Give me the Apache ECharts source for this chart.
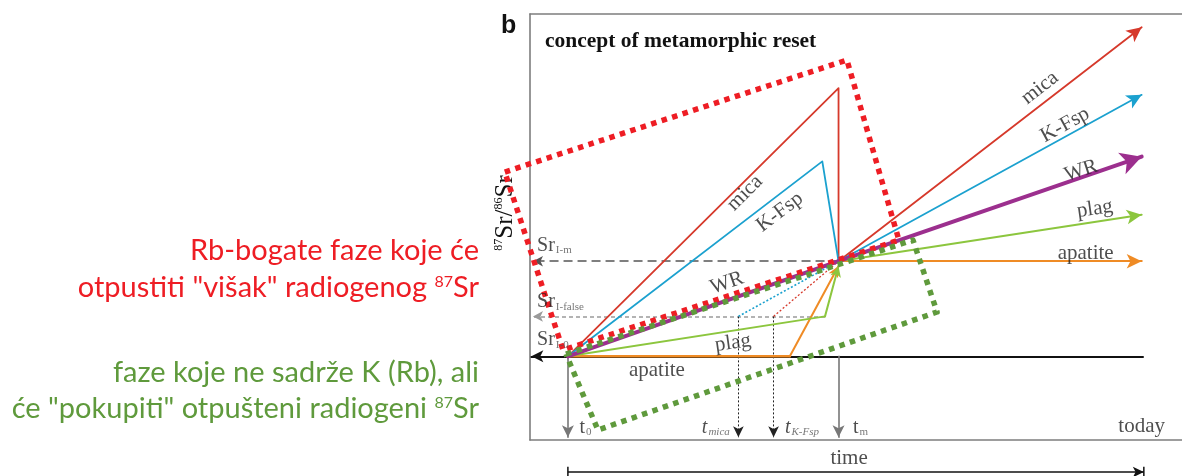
<!DOCTYPE html>
<html><head><meta charset="utf-8">
<script src="https://cdn.jsdelivr.net/npm/echarts@6/dist/echarts.min.js"></script>
<style>html,body{margin:0;padding:0;background:#fff}#c{width:1182px;height:476px}</style>
</head><body><div id="c"></div>
<script>
// ---- data (time in arbitrary units: t0 = 0, tm = 100; 87Sr/86Sr in arbitrary units: Sr_I-0 = 0, Sr_I-m = 100)
const timeNames  = ['t0', 'tMica', 'tKFsp', 'tm', 'today'];
const timeValues = [0, 63, 76, 100, 212];
const srLevelNames  = ['Sr_I-0', 'Sr_I-false', 'Sr_I-m'];
const srLevelValues = [0, 42, 100];

// evolution paths before metamorphism (t0 -> tm)
const micaBefore    = [[0, 0], [100, 282], [100, 100]];
const kfspBefore    = [[0, 0], [94, 205], [100, 100]];
const wrBefore      = [[0, 0], [100, 100]];
const plagBefore    = [[0, 0], [95, 42]];
const plagReset     = [[95, 42], [100, 95]];
const apatiteBefore = [[0, 0], [82, 0]];
const apatiteReset  = [[82, 0], [100, 95]];
// false isochron projections
const micaFalse = [[63, 42], [100, 100]];
const kfspFalse = [[76, 42], [100, 100]];
// evolution after metamorphism (tm -> today)
const micaAfter    = [[100, 100], [212, 346]];
const kfspAfter    = [[100, 100], [212, 275]];
const wrAfter      = [[100, 100], [212, 210]];
const plagAfter    = [[100, 100], [212, 149]];
const apatiteAfter = [[100, 100], [212, 100]];
// highlight boxes (annotation)
const rbRichBox = [[-23.3, 193.8], [103.1, 311.6], [122.3, 122.3], [-1.8, 6.6], [-23.3, 193.8]];
const kPoorBox  = [[-0.7, 2.4], [127.5, 122.3], [136.4, 46.6], [11.1, -77.5], [-0.7, 2.4]];

const X_MIN = -14, X_MAX = 226.9, Y_MIN = -88, Y_MAX = 360;
const C = { mica: '#d6392b', kfsp: '#1ba1cf', wr: '#9c2f8e', plag: '#8cc63e', apatite: '#ef8b25',
            red: '#ee1d24', green: '#5f9a3c' };
const SERIF = 'Liberation Serif';

const T = Object.fromEntries(timeNames.map((n, i) => [n, timeValues[i]]));
const S = Object.fromEntries(srLevelNames.map((n, i) => [n, srLevelValues[i]]));
const AXIS_X = -13.5, BOTTOM_Y = -85, TIME_Y = -121.7;

const series = [];
function path(coords, color, width, opts = {}) {
  const { dash = 'solid', arrow = null, z = 2, cap = 'round' } = opts;
  const ls = { color, width, type: dash, opacity: 1, cap, join: 'round', curveness: 0 };
  const body = arrow ? coords.slice(0, coords.length - 1) : coords;
  if (body.length >= 2) {
    series.push({ type: 'lines', coordinateSystem: 'cartesian2d', polyline: true, clip: false, silent: true,
      animation: false, z, lineStyle: ls, data: [{ coords: body }] });
  }
  if (arrow) {
    series.push({ type: 'lines', coordinateSystem: 'cartesian2d', polyline: false, clip: false, silent: true,
      animation: false, z, symbol: ['none', 'arrow'], symbolSize: [1, arrow], lineStyle: ls,
      data: [{ coords: coords.slice(-2) }] });
  }
}

// reference lines
path([[T.today + 0.5, S['Sr_I-0']], [AXIS_X, S['Sr_I-0']]], '#111', 2, { arrow: [9, 12], z: 1 });
path([[T.tm, S['Sr_I-m']], [AXIS_X + 0.6, S['Sr_I-m']]], '#555', 1.6, { dash: [9, 5], arrow: [8, 10], z: 1, cap: 'butt' });
path([[95, S['Sr_I-false']], [AXIS_X + 0.6, S['Sr_I-false']]], '#9a9a9a', 1.5, { dash: [4, 3], arrow: [8, 10], z: 1, cap: 'butt' });
path([[T.t0, S['Sr_I-0']], [T.t0, BOTTOM_Y]], '#777', 1.6, { arrow: [9, 12], z: 1 });
path([[T.tm, S['Sr_I-0']], [T.tm, BOTTOM_Y]], '#777', 1.6, { arrow: [9, 12], z: 1 });
path([[T.tMica, S['Sr_I-false']], [T.tMica, BOTTOM_Y]], '#222', 1, { dash: [2, 2], arrow: [8, 11], z: 1, cap: 'butt' });
path([[T.tKFsp, S['Sr_I-false']], [T.tKFsp, BOTTOM_Y]], '#222', 1, { dash: [2, 2], arrow: [8, 11], z: 1, cap: 'butt' });
path(micaFalse, C.kfsp, 1.6, { dash: [2, 2], cap: 'butt' });
path(kfspFalse, C.mica, 1.3, { dash: [2, 2], cap: 'butt' });

// phases
path(apatiteBefore, C.apatite, 2.4, { z: 3 });
path(apatiteReset, C.apatite, 2, { arrow: [8, 11], z: 3 });
path(apatiteAfter, C.apatite, 2.2, { arrow: [11, 15], z: 3 });
path(plagBefore, C.plag, 2, { z: 3 });
path(plagReset, C.plag, 2, { arrow: [8, 11], z: 3 });
path(plagAfter, C.plag, 2, { arrow: [11, 15], z: 3 });
path(micaBefore, C.mica, 1.8, { z: 3 });
path(micaAfter, C.mica, 1.8, { arrow: [11, 15], z: 3 });
path(kfspBefore, C.kfsp, 1.8, { z: 3 });
path(kfspAfter, C.kfsp, 1.8, { arrow: [11, 15], z: 3 });
path(wrBefore, C.wr, 4, { z: 4 });
path(wrAfter, C.wr, 4, { arrow: [17, 21], z: 4 });

// time arrow below the frame
path([[T.t0, TIME_Y], [T.today + 0.8, TIME_Y]], '#111', 1.5, { arrow: [8, 11], z: 1, cap: 'butt' });
path([[T.t0, TIME_Y + 5.5], [T.t0, TIME_Y - 5.5]], '#111', 1.5, { z: 1, cap: 'butt' });
path([[T.today + 0.8, TIME_Y + 5.5], [T.today + 0.8, TIME_Y - 5.5]], '#111', 1.5, { z: 1, cap: 'butt' });

// highlight boxes
path(rbRichBox, C.red, 5.5, { dash: [5.5, 5.5], z: 6, cap: 'butt' });
path(kPoorBox, C.green, 5.5, { dash: [5.5, 5.5], z: 6, cap: 'butt' });

// text labels placed in data coordinates
const labels = [
  { x: 65.4, y: 171.7, text: 'mica', rot: 45 },
  { x: 78.3, y: 151.7, text: 'K-Fsp', rot: 37 },
  { x: 58.8, y: 77.2, text: 'WR', rot: 19 },
  { x: 61, y: 14, text: 'plag', rot: 8 },
  { x: 32.9, y: -14.4, text: 'apatite', rot: 0 },
  { x: 174.4, y: 282.3, text: 'mica', rot: 38 },
  { x: 183.7, y: 243.3, text: 'K-Fsp', rot: 29 },
  { x: 189.6, y: 195, text: 'WR', rot: 18 },
  { x: 194.7, y: 155, text: 'plag', rot: 8 },
  { x: 191.3, y: 108.6, text: 'apatite', rot: 0 },
  { x: -11.4, y: 116, text: '{s|Sr}{sub|I-m}', align: 'left' },
  { x: -11.4, y: 57, text: '{s|Sr}{sub|I-false}', align: 'left' },
  { x: -11.4, y: 17, text: '{s|Sr}{sub|I-0}', align: 'left' },
  { x: 4.3, y: -75, text: '{s|t}{sub|0}', align: 'left' },
  { x: 49.5, y: -75, text: '{it|t}{itsub|mica}', align: 'left' },
  { x: 80.2, y: -75, text: '{it|t}{itsub|K-Fsp}', align: 'left' },
  { x: 105.3, y: -75, text: '{s|t}{sub|m}', align: 'left' },
  { x: 220.6, y: -74, text: 'today', align: 'right' },
  { x: 103.9, y: -107, text: 'time' }
];
series.push({
  type: 'scatter', coordinateSystem: 'cartesian2d', symbolSize: 0, clip: false, silent: true, animation: false, z: 8,
  label: {
    show: true, position: 'inside', formatter: p => p.data.text,
    fontFamily: SERIF, fontSize: 21, color: '#222',
    rich: {
      s: { fontFamily: SERIF, fontSize: 20, color: '#222' },
      sub: { fontFamily: SERIF, fontSize: 11, color: '#555', verticalAlign: 'bottom', padding: [0, 0, 0, 1] },
      it: { fontFamily: SERIF, fontSize: 20, color: '#222', fontStyle: 'italic' },
      itsub: { fontFamily: SERIF, fontSize: 11, color: '#555', fontStyle: 'italic', verticalAlign: 'bottom', padding: [0, 0, 0, 1] }
    }
  },
  data: labels.map(l => ({ value: [l.x, l.y], text: l.text,
    label: { rotate: l.rot || 0, align: l.align || 'center', verticalAlign: 'middle' } }))
});

const chart = echarts.init(document.getElementById('c'));
const redTxt = ['Rb-bogate faze koje će', 'otpustiti "višak" radiogenog {sup|87}Sr'];
const greenTxt = ['faze koje ne sadrže K (Rb), ali', 'će "pokupiti" otpušteni radiogeni {sup|87}Sr'];
const sideFont = 'Lato';
function sideText(text, y, color) {
  return { type: 'text', x: 479, y, silent: true,
    style: { text, fill: color, fontFamily: sideFont, fontSize: 29, align: 'right', verticalAlign: 'middle',
      rich: { sup: { fill: color, fontFamily: sideFont, fontSize: 16, verticalAlign: 'top', padding: [0, 0, 7, 0] } } } };
}
const frameLine = { show: true, onZero: false, lineStyle: { color: '#7d7d7d', width: 1.6 } };
chart.setOption({
  animation: false,
  backgroundColor: '#fff',
  title: { text: 'concept of metamorphic reset', left: 545, top: 30, padding: 0,
    textStyle: { fontFamily: SERIF, fontWeight: 'bold', fontSize: 21.5, color: '#111' } },
  grid: { left: 530, top: 14, right: 0, bottom: 36, show: false },
  xAxis: [
    { type: 'value', min: X_MIN, max: X_MAX, position: 'bottom', axisLine: frameLine, axisTick: { show: false }, axisLabel: { show: false }, splitLine: { show: false } },
    { type: 'value', min: X_MIN, max: X_MAX, position: 'top', axisLine: frameLine, axisTick: { show: false }, axisLabel: { show: false }, splitLine: { show: false } }
  ],
  yAxis: { type: 'value', min: Y_MIN, max: Y_MAX, position: 'left', axisLine: frameLine, axisTick: { show: false }, axisLabel: { show: false }, splitLine: { show: false } },
  graphic: [
    { type: 'text', x: 501, y: 14, silent: true,
      style: { text: 'b', fill: '#111', fontFamily: 'Liberation Sans', fontWeight: 'bold', fontSize: 25, verticalAlign: 'top' } },
    { type: 'text', x: 505, y: 213, rotation: Math.PI / 2, silent: true,
      style: { text: '{sup|87}Sr/{sup|86}Sr', fill: '#111', fontFamily: SERIF, fontSize: 25, align: 'center', verticalAlign: 'middle',
        rich: { sup: { fill: '#111', fontFamily: SERIF, fontSize: 12, verticalAlign: 'top', padding: [0, 0, 8, 0] } } } },
    sideText(redTxt[0], 251, C.red),
    sideText(redTxt[1], 288, C.red),
    sideText(greenTxt[0], 373, C.green),
    sideText(greenTxt[1], 409, C.green)
  ],
  series
});
</script></body></html>
